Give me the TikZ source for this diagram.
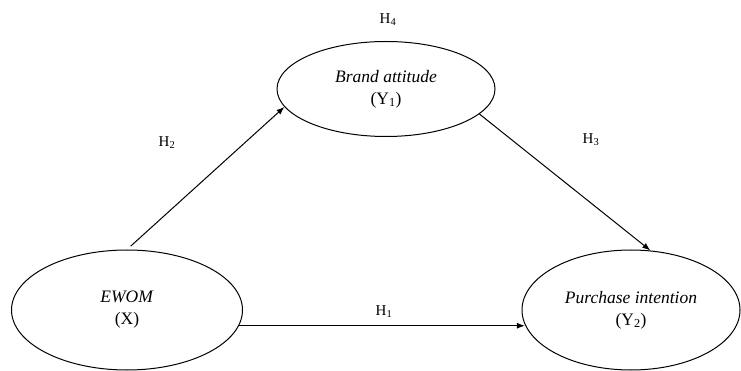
\documentclass[tikz,border=0pt]{standalone}
\usepackage{fontspec}
\setmainfont{Liberation Serif}
\usepackage{amsmath}
\usetikzlibrary{arrows.meta,positioning,shapes.geometric}

\begin{document}
\begin{tikzpicture}[x=1pt,y=-1pt,
    construct/.style={draw,ellipse,line width=1pt,inner sep=0pt,align=center,font=\fontsize{17.5}{22}\selectfont},
    path/.style={-{Latex[length=8pt,width=6pt]},line width=1pt},
    hyp/.style={font=\fontsize{15}{17}\selectfont}]
    \useasboundingbox (0,0) rectangle (741,371);

    \node[construct,minimum width=218pt,minimum height=95pt] (ba) at (386,89) {\emph{Brand attitude}\\(Y\textsubscript{1})};
    \node[construct,minimum width=231pt,minimum height=120pt] (ewom) at (127,310) {\emph{EWOM}\\(X)};
    \node[construct,minimum width=218pt,minimum height=120pt] (pi) at (631,310) {\emph{Purchase intention}\\(Y\textsubscript{2})};

    \draw[path,shorten <=5pt] (ewom.north) -- (ba.190);
    \draw[path] (ba.345) -- (pi.72);
    \draw[path] (ewom.-8) -- (ewom.-8 -| pi.188);

    \node[hyp] (h4) at (388,20) {H\textsubscript{4}};
    \node[hyp] (h2) at (167,143) {H\textsubscript{2}};
    \node[hyp] (h3) at (591,140) {H\textsubscript{3}};
    \node[hyp] (h1) at (384,312) {H\textsubscript{1}};
\end{tikzpicture}
\end{document}
